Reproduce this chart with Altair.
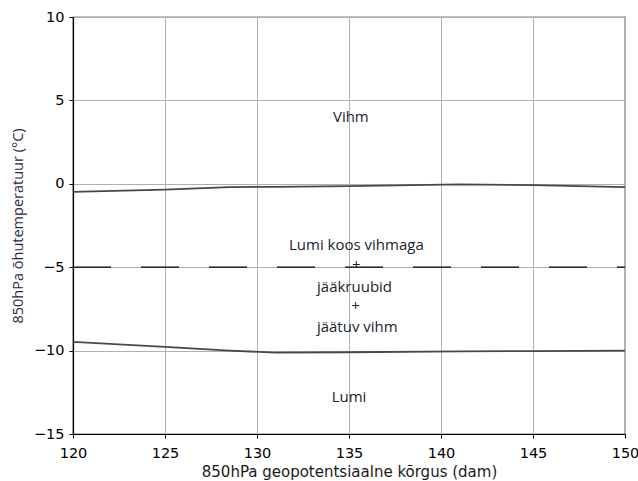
import altair as alt
import pandas as pd

# Boundary curves of the precipitation-type diagram
height_dam = [120, 125, 128.5, 131, 135, 141, 145, 150]
rain_limit = [-0.48, -0.35, -0.2, -0.18, -0.14, -0.03, -0.08, -0.2]
snow_limit = [-9.48, -9.78, -10.0, -10.12, -10.1, -10.05, -10.03, -10.0]

# Horizontal -5 °C divider
mix_level = -5

# Region labels
label_text = ["Vihm", "Lumi koos vihmaga", "+", "jääkruubid", "+", "jäätuv vihm", "Lumi"]
label_x = [135.1, 135.4, 135.4, 135.3, 135.35, 135.45, 135.0]
label_y = [4.0, -3.65, -4.85, -6.17, -7.3, -8.57, -12.8]

upper = pd.DataFrame({"x": height_dam, "y": rain_limit})
lower = pd.DataFrame({"x": height_dam, "y": snow_limit})
mid = pd.DataFrame({"x": [120, 150], "y": [mix_level, mix_level]})
labels = pd.DataFrame({"t": label_text, "x": label_x, "y": label_y})

xs = alt.Scale(domain=[120, 150], nice=False, zero=False)
ys = alt.Scale(domain=[-15, 10], nice=False, zero=False)

x_axis = alt.Axis(
    title="850hPa geopotentsiaalne kõrgus (dam)",
    values=[120, 125, 130, 135, 140, 145, 150],
    format="d", labelFlush=False,
    grid=True, gridColor="#b0b0b0", gridWidth=1,
    domainColor="#000000", domainWidth=1.2,
    tickColor="#000000", tickSize=4,
    labelFont="DejaVu Sans", labelFontSize=14.5, labelColor="#000000", labelPadding=8,
    titleFont="DejaVu Sans", titleFontSize=15, titleFontWeight="normal",
    titleColor="#1a1a1a", titlePadding=5,
)
y_axis = alt.Axis(
    title="850hPa õhutemperatuur (°C)",
    values=[-15, -10, -5, 0, 5, 10],
    labelFlush=False,
    grid=True, gridColor="#b0b0b0", gridWidth=1,
    domainColor="#000000", domainWidth=1.2,
    tickColor="#000000", tickSize=4,
    labelFont="DejaVu Sans", labelFontSize=14.5, labelColor="#000000", labelPadding=5,
    titleFont="Open Sans", titleFontSize=14.5, titleFontWeight="normal",
    titleColor="#2a2a3a", titlePadding=8,
)

base_x = alt.X("x:Q", scale=xs, axis=x_axis)
base_y = alt.Y("y:Q", scale=ys, axis=y_axis)

upper_line = alt.Chart(upper).mark_line(color="#484848", strokeWidth=1.8).encode(x=base_x, y=base_y)
lower_line = alt.Chart(lower).mark_line(color="#484848", strokeWidth=1.8).encode(x="x:Q", y="y:Q")
mid_line = alt.Chart(mid).mark_line(color="#000000", strokeWidth=1.2, strokeDash=[38, 30]).encode(x="x:Q", y="y:Q")
text = alt.Chart(labels).mark_text(
    font="Open Sans", fontSize=15, color="#1c1c2c", baseline="middle", align="center"
).encode(x="x:Q", y="y:Q", text="t:N")

chart = (
    alt.layer(upper_line, lower_line, mid_line, text)
    .properties(
        width=552, height=417,
        padding={"left": 73, "top": 17, "right": 13, "bottom": 47},
        autosize=alt.AutoSizeParams(type="none"),
        background="#ffffff",
    )
    .configure_view(stroke="#000000", strokeWidth=1.2)
)

chart.save("out.html", embed_options={"renderer": "svg", "actions": False})
